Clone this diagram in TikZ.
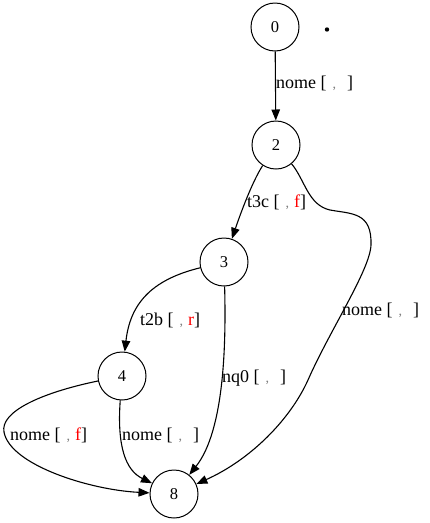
\documentclass[tikz,border=0pt]{standalone}
\usepackage{fontspec}
\setmainfont{Liberation Serif}
\usetikzlibrary{arrows.meta}

% edge text: name [ , value ]
\newcommand{\edgetext}[2]{#1 [\hspace{6pt}{\color{gray}\fontsize{14}{14}\selectfont,}\hspace{5pt}\makebox[6pt][l]{\color{red}#2}]}

\tikzset{
  state/.style={circle, draw, line width=1pt, minimum size=48pt, inner sep=0pt,
                font=\fontsize{16.5}{16.5}\selectfont},
  trans/.style={line width=1.1pt, -{Triangle[length=11pt,width=8.5pt]}},
  tlabel/.style={anchor=base west, inner sep=0pt, font=\fontsize{18}{18}\selectfont},
}

\begin{document}
\begin{tikzpicture}[x=1pt, y=-1pt]
  \useasboundingbox (0,0) rectangle (430,523);

  % states
  \node[state] (n0) at (275,27) {0};
  \node[state] (n2) at (276,145) {2};
  \node[state] (n3) at (224,262) {3};
  \node[state] (n4) at (122,376) {4};
  \node[state] (n8) at (174,494) {8};
  \fill (327,29.5) circle (2.2pt);

  % transitions
  \draw[trans] (n0) -- (n2);
  \draw[trans] (n2) .. controls (252,182) and (240,215) .. (n3);
  \draw[trans] (n2) .. controls (305,180) and (308,205) .. (330,210)
                    .. controls (352,214) and (372,212) .. (371,245)
                    .. controls (370,270) and (330,330) .. (308,380)
                    .. controls (290,420) and (250,460) .. (n8);
  \draw[trans] (n3) .. controls (150,280) and (130,305) .. (n4);
  \draw[trans] (n3) .. controls (226,340) and (225,430) .. (n8);
  \draw[trans] (n4) .. controls (117,445) and (125,470) .. (n8);
  \draw[trans] (n4) .. controls (40,393) and (0,412) .. (4,432)
                    .. controls (10,465) and (90,490) .. (n8);

  % transition labels
  \node[tlabel] (l02) at (276,88) {\edgetext{nome}{}};
  \node[tlabel] (l23) at (247,207) {\edgetext{t3c}{f}};
  \node[tlabel] (l28) at (342,315) {\edgetext{nome}{}};
  \node[tlabel] (l34) at (140,325) {\edgetext{t2b}{r}};
  \node[tlabel] (l38) at (222,382) {\edgetext{nq0}{}};
  \node[tlabel] (l48a) at (122,440) {\edgetext{nome}{}};
  \node[tlabel] (l48b) at (10,440) {\edgetext{nome}{f}};
\end{tikzpicture}
\end{document}
